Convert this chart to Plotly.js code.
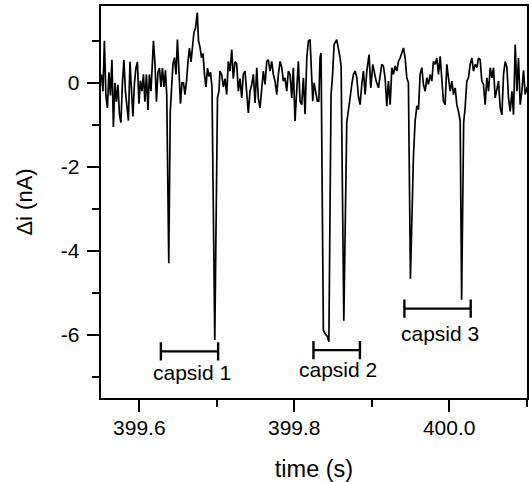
<!DOCTYPE html>
<html>
<head>
<meta charset="utf-8">
<script src="https://cdn.plot.ly/plotly-3.0.1.min.js"></script>
<style>html,body{margin:0;padding:0;background:#fff;}</style>
</head>
<body>
<div id="chart" style="width:529px;height:482px;"></div>
<script>
// ---- data ----
var time = [
399.5510,399.5530,399.5549,399.5568,399.5588,399.5607,399.5627,399.5646,399.5665,399.5685,
399.5704,399.5724,399.5743,399.5762,399.5782,399.5801,399.5820,399.5840,399.5859,399.5879,
399.5898,399.5917,399.5937,399.5956,399.5975,399.5995,399.6014,399.6034,399.6053,399.6072,
399.6092,399.6111,399.6130,399.6150,399.6169,399.6182,399.6202,399.6221,399.6240,399.6260,
399.6279,399.6298,399.6318,399.6337,399.6354,399.6380,399.6399,399.6415,399.6434,399.6453,
399.6473,399.6492,399.6512,399.6531,399.6550,399.6570,399.6589,399.6609,399.6628,399.6647,
399.6667,399.6686,399.6705,399.6725,399.6748,399.6764,399.6783,399.6802,399.6822,399.6841,
399.6860,399.6880,399.6899,399.6919,399.6938,399.6974,399.7009,399.7028,399.7041,399.7063,
399.7084,399.7106,399.7128,399.7149,399.7171,399.7193,399.7213,399.7235,399.7257,399.7278,
399.7300,399.7322,399.7342,399.7364,399.7386,399.7407,399.7429,399.7451,399.7472,399.7494,
399.7516,399.7536,399.7558,399.7580,399.7601,399.7623,399.7645,399.7665,399.7687,399.7709,
399.7730,399.7752,399.7774,399.7795,399.7817,399.7839,399.7859,399.7881,399.7903,399.7924,
399.7946,399.7968,399.7988,399.8010,399.8032,399.8053,399.8075,399.8097,399.8118,399.8140,
399.8162,399.8182,399.8204,399.8226,399.8239,399.8256,399.8269,399.8282,399.8298,399.8317,
399.8333,399.8346,399.8376,399.8404,399.8430,399.8447,399.8475,399.8495,399.8514,399.8549,
399.8570,399.8592,399.8605,399.8640,399.8678,399.8699,399.8721,399.8743,399.8764,399.8786,
399.8808,399.8828,399.8850,399.8872,399.8893,399.8915,399.8937,399.8966,399.8988,399.9014,
399.9031,399.9057,399.9087,399.9108,399.9130,399.9151,399.9173,399.9195,399.9216,399.9238,
399.9260,399.9280,399.9302,399.9324,399.9345,399.9367,399.9389,399.9410,399.9432,399.9453,
399.9474,399.9500,399.9539,399.9561,399.9583,399.9604,399.9625,399.9647,399.9668,399.9690,
399.9712,399.9733,399.9755,399.9776,399.9797,399.9819,399.9841,399.9862,399.9884,399.9906,
399.9926,399.9948,399.9970,399.9991,400.0013,400.0035,400.0056,400.0078,400.0099,400.0120,
400.0142,400.0161,400.0187,400.0206,400.0228,400.0249,400.0271,400.0293,400.0314,400.0336,
400.0358,400.0378,400.0400,400.0422,400.0443,400.0465,400.0487,400.0508,400.0530,400.0552,
400.0572,400.0594,400.0616,400.0637,400.0659,400.0681,400.0702,400.0724,400.0746,400.0766,
400.0788,400.0810,400.0831,400.0853,400.0875,400.0895,400.0917,400.0939,400.0960,400.0982,
400.1008
];
var current = [
0.2,-0.2,1.0,-0.3,-0.6,0.25,-0.3,0.55,-1.05,0.0,
-0.45,-0.05,-0.75,-0.95,0.0,0.55,-0.2,-0.65,-0.9,0.5,
-0.35,-0.8,0.0,0.35,0.5,-0.5,0.05,-0.2,0.2,-0.45,
0.2,-0.65,0.2,-0.2,0.5,1.0,0.45,-0.45,0.25,0.35,
-0.1,0.35,-0.1,0.3,-0.3,-4.30,-0.7,-0.2,0.45,0.6,
0.2,1.03,0.2,-0.5,0.0,0.0,-0.28,0.04,0.5,0.83,
0.5,0.9,1.2,1.3,1.67,1.0,0.85,0.6,0.7,0.2,
-0.1,0.35,0.15,0.25,-0.1,-6.13,-0.35,-0.2,0.28,0.2,
-0.1,0.1,-0.28,0.51,0.28,0.79,0.1,0.5,0.45,-0.2,
0.1,-0.36,0.2,0.28,-0.2,-0.72,-0.2,-0.04,0.2,-0.48,
0.36,-0.36,-0.6,-0.2,0.28,-0.04,0.51,0.55,0.28,0.51,
0.2,0.04,-0.28,0.2,0.51,0.36,0.04,0.12,-0.2,0.28,
0.2,-0.36,0.36,-0.91,-0.2,0.51,-0.44,-0.52,0.12,-0.75,
0.6,0.99,1.03,0.2,-0.44,0.0,-0.12,-0.28,-0.44,-0.44,
0.6,0.71,-5.9,-5.99,-6.05,-6.17,-0.3,0.2,0.91,1.03,
0.83,0.59,0.4,-5.67,-0.95,-0.6,-0.36,-0.04,0.2,0.28,
0.12,-0.32,-0.52,-0.04,0.28,-0.28,0.28,0.67,-0.12,0.44,
0.28,0.04,-0.12,0.2,0.44,0.4,0.12,-0.56,0.04,-0.52,
0.36,0.2,0.4,0.28,0.51,0.59,0.7,0.83,0.59,0.12,
0.0,-4.67,-1.75,-0.9,-0.55,-0.64,0.2,0.36,-0.04,-0.2,
0.12,-0.04,0.2,0.04,0.51,0.44,0.59,0.2,0.63,0.12,
-0.44,-0.52,0.44,0.12,-0.2,0.04,-0.28,-0.12,-0.52,-0.68,
-0.9,-5.17,-0.95,-0.6,0.04,0.12,0.44,0.59,0.28,0.44,
0.36,0.59,0.55,0.04,-0.04,-0.52,0.12,-0.2,0.36,0.12,
0.36,-0.36,-0.12,0.04,-0.6,-0.76,0.2,0.51,0.36,-0.36,
-0.68,-0.2,-0.76,0.91,-0.2,0.59,-0.52,-0.2,0.3,-0.28,
-0.1
];

var capsidLabels = ["capsid 1", "capsid 2", "capsid 3"];
var capsidStart  = [399.6278, 399.8248, 399.9422];
var capsidEnd    = [399.7017, 399.8848, 400.0278];
var capsidLevel  = [-6.40, -6.37, -5.38];
var labelTime    = [399.668, 399.857, 399.988];
var labelLevel   = [-6.90, -6.83, -5.97];

var xTickVals  = [399.6, 399.8, 400.0];
var xTickText  = ["399.6", "399.8", "400.0"];
var xMinorVals = [399.7, 399.9, 400.1];
var yTickVals  = [-6, -4, -2, 0];
var yTickText  = ["-6", "-4", "-2", "0"];
var yMinorVals = [-7, -5, -3, -1, 1];

// ---- traces ----
var traces = [{
  type: 'scatter', mode: 'lines', x: time, y: current,
  line: {color: '#000000', width: 1.7},
  hoverinfo: 'skip'
}];
for (var i = 0; i < capsidLabels.length; i++) {
  traces.push({
    type: 'scatter', mode: 'lines+markers',
    x: [capsidStart[i], capsidEnd[i]],
    y: [capsidLevel[i], capsidLevel[i]],
    line: {color: '#000000', width: 2.4},
    marker: {symbol: 'line-ns', size: 13, color: '#000000', line: {color: '#000000', width: 2.4}},
    hoverinfo: 'skip'
  });
}
var annotations = capsidLabels.map(function (t, i) {
  return {
    x: labelTime[i], y: labelLevel[i], xref: 'x', yref: 'y',
    text: t, showarrow: false, xanchor: 'center', yanchor: 'middle',
    font: {family: 'Liberation Sans, Arial, sans-serif', size: 21, color: '#000000'}
  };
});

var axisCommon = {
  ticks: 'outside', tickwidth: 2, tickcolor: '#000000',
  showline: true, linewidth: 2.4, linecolor: '#000000', mirror: true,
  showgrid: false, zeroline: false,
  tickfont: {family: 'Liberation Sans, Arial, sans-serif', size: 21, color: '#000000'}
};

var layout = {
  width: 529, height: 482,
  margin: {l: 101, r: 2, t: 6, b: 84, pad: 0},
  paper_bgcolor: '#ffffff', plot_bgcolor: '#ffffff',
  showlegend: false,
  font: {family: 'Liberation Sans, Arial, sans-serif', color: '#000000', size: 21},
  xaxis: Object.assign({}, axisCommon, {
    range: [399.5505, 400.1005],
    tickmode: 'array', tickvals: xTickVals, ticktext: xTickText, ticklen: 12,
    ticklabelstandoff: -3,
    minor: {tickmode: 'array', tickvals: xMinorVals, ticks: 'outside', ticklen: 7, tickwidth: 2, tickcolor: '#000000', showgrid: false},
    title: {text: 'time (s)', font: {size: 23.5, color: '#000000'}, standoff: 25}
  }),
  yaxis: Object.assign({}, axisCommon, {
    range: [-7.51, 1.83],
    tickmode: 'array', tickvals: yTickVals, ticktext: yTickText, ticklen: 12,
    ticklabelstandoff: 3,
    minor: {tickmode: 'array', tickvals: yMinorVals, ticks: 'outside', ticklen: 7, tickwidth: 2, tickcolor: '#000000', showgrid: false},
    title: {text: 'Δi (nA)', font: {size: 22, color: '#000000'}, standoff: 22}
  }),
  annotations: annotations
};

Plotly.newPlot('chart', traces, layout, {staticPlot: true, displayModeBar: false});
</script>
</body>
</html>
